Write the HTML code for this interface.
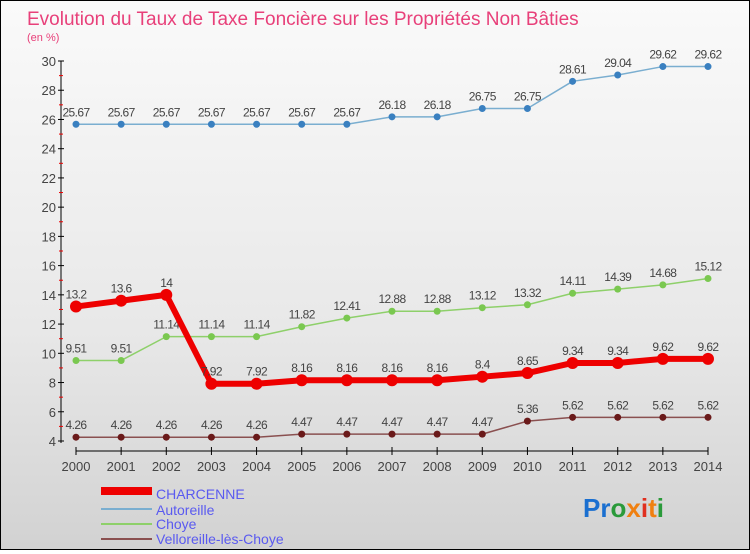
<!DOCTYPE html>
<html><head><meta charset="utf-8"><style>
html,body{margin:0;padding:0}
body{width:750px;height:550px;overflow:hidden;font-family:"Liberation Sans",sans-serif}
#wrap{position:relative;width:748px;height:548px;border:1px solid #000;background:linear-gradient(#fafafa,#e8e8e8 60%,#d2d2d2)}
</style></head><body>
<div id="wrap">
<svg id="svg" width="748" height="548" xmlns="http://www.w3.org/2000/svg">
<text x="26" y="24" font-size="19" fill="#e8407a">Evolution du Taux de Taxe Foncière sur les Propriétés Non Bâties</text>
<text x="26" y="40" font-size="11" fill="#e8407a">(en %)</text>
<g id="axes"></g><g id="series"></g>
<g>
<rect x="100" y="486" width="51" height="8" fill="#e00"/>
<text x="155" y="498" font-size="14" fill="#5a5af0">CHARCENNE</text>
<rect x="100" y="507" width="51" height="2" fill="#7aaed0"/>
<text x="155" y="514" font-size="14" fill="#5a5af0">Autoreille</text>
<rect x="100" y="522" width="51" height="2" fill="#8ed06a"/>
<text x="155" y="528" font-size="14" fill="#5a5af0">Choye</text>
<rect x="100" y="537" width="51" height="2" fill="#8a5050"/>
<text x="155" y="543" font-size="14" fill="#5a5af0">Velloreille-lès-Choye</text>
</g>
<text x="582" y="516" font-size="26" font-weight="bold"><tspan fill="#1a6fd0">Pr</tspan><tspan fill="#2a9a3a">o</tspan><tspan fill="#f08010">x</tspan><tspan fill="#e03020">i</tspan><tspan fill="#f08010">t</tspan><tspan fill="#2a9a3a">i</tspan></text>
</svg></div>
<script>
const years=[2000,2001,2002,2003,2004,2005,2006,2007,2008,2009,2010,2011,2012,2013,2014];
const yTicks=[4,6,8,10,12,14,16,18,20,22,24,26,28,30];
const charcenne=[13.2,13.6,14,7.92,7.92,8.16,8.16,8.16,8.16,8.4,8.65,9.34,9.34,9.62,9.62];
const autoreille=[25.67,25.67,25.67,25.67,25.67,25.67,25.67,26.18,26.18,26.75,26.75,28.61,29.04,29.62,29.62];
const choye=[9.51,9.51,11.14,11.14,11.14,11.82,12.41,12.88,12.88,13.12,13.32,14.11,14.39,14.68,15.12];
const velloreille=[4.26,4.26,4.26,4.26,4.26,4.47,4.47,4.47,4.47,4.47,5.36,5.62,5.62,5.62,5.62];
const NS="http://www.w3.org/2000/svg";
const xS=i=>75+i*(632/(years.length-1));
const yS=v=>440-(v-4)*(380/26);
function mk(tag,attrs,parent){const e=document.createElementNS(NS,tag);for(const k in attrs)e.setAttribute(k,attrs[k]);parent.appendChild(e);return e;}
const ax=document.getElementById('axes');
let a=mk('line',{x1:60,y1:60,x2:60,y2:442,stroke:'#000'},ax);


yTicks.forEach(v=>{
  mk('line',{x1:57,x2:63,y1:yS(v),y2:yS(v),stroke:'#000'},ax);
  if(v<30){mk('line',{x1:58,x2:62,y1:yS(v+1),y2:yS(v+1),stroke:'#e00'},ax);}
  const t=mk('text',{x:55,y:yS(v)+5,'font-size':13,'text-anchor':'end',fill:'#444'},ax);t.textContent=v;
  
  
});
a=mk('line',{x1:75,y1:450,x2:707,y2:450,stroke:'#000'},ax);


years.forEach((y,i)=>{
  mk('line',{x1:xS(i),x2:xS(i),y1:446,y2:454,stroke:'#000'},ax);
  const t=mk('text',{x:xS(i),y:470,'font-size':13,'text-anchor':'middle',fill:'#444'},ax);t.textContent=y;
  
  
});
const sg=document.getElementById('series');
function series(data,name,color,dot,w,r){
  const g=mk('g',{},sg);
  
  
  const pts=data.map((v,i)=>xS(i)+','+yS(v)).join(' ');
  mk('polyline',{points:pts,fill:'none',stroke:color,'stroke-width':w,'stroke-linejoin':'round'},g);
  data.forEach((v,i)=>{
    const c=mk('circle',{cx:xS(i),cy:yS(v),r:r,fill:dot},g);
    
    
    const t=mk('text',{x:xS(i),y:yS(v)-8,'font-size':12,'text-anchor':'middle',fill:'#444','letter-spacing':'-0.6'},g);
    t.textContent=v;
    
    
  });
}
series(autoreille,'autoreille','#7aaed0','#3a80c0',1.5,3.5);
series(choye,'choye','#8ed06a','#7ac850',1.5,3.5);
series(velloreille,'velloreille','#8a5050','#6a1a1a',1.5,3.5);
series(charcenne,'charcenne','#e00','#e00',6,6);
</script>
</body></html>
